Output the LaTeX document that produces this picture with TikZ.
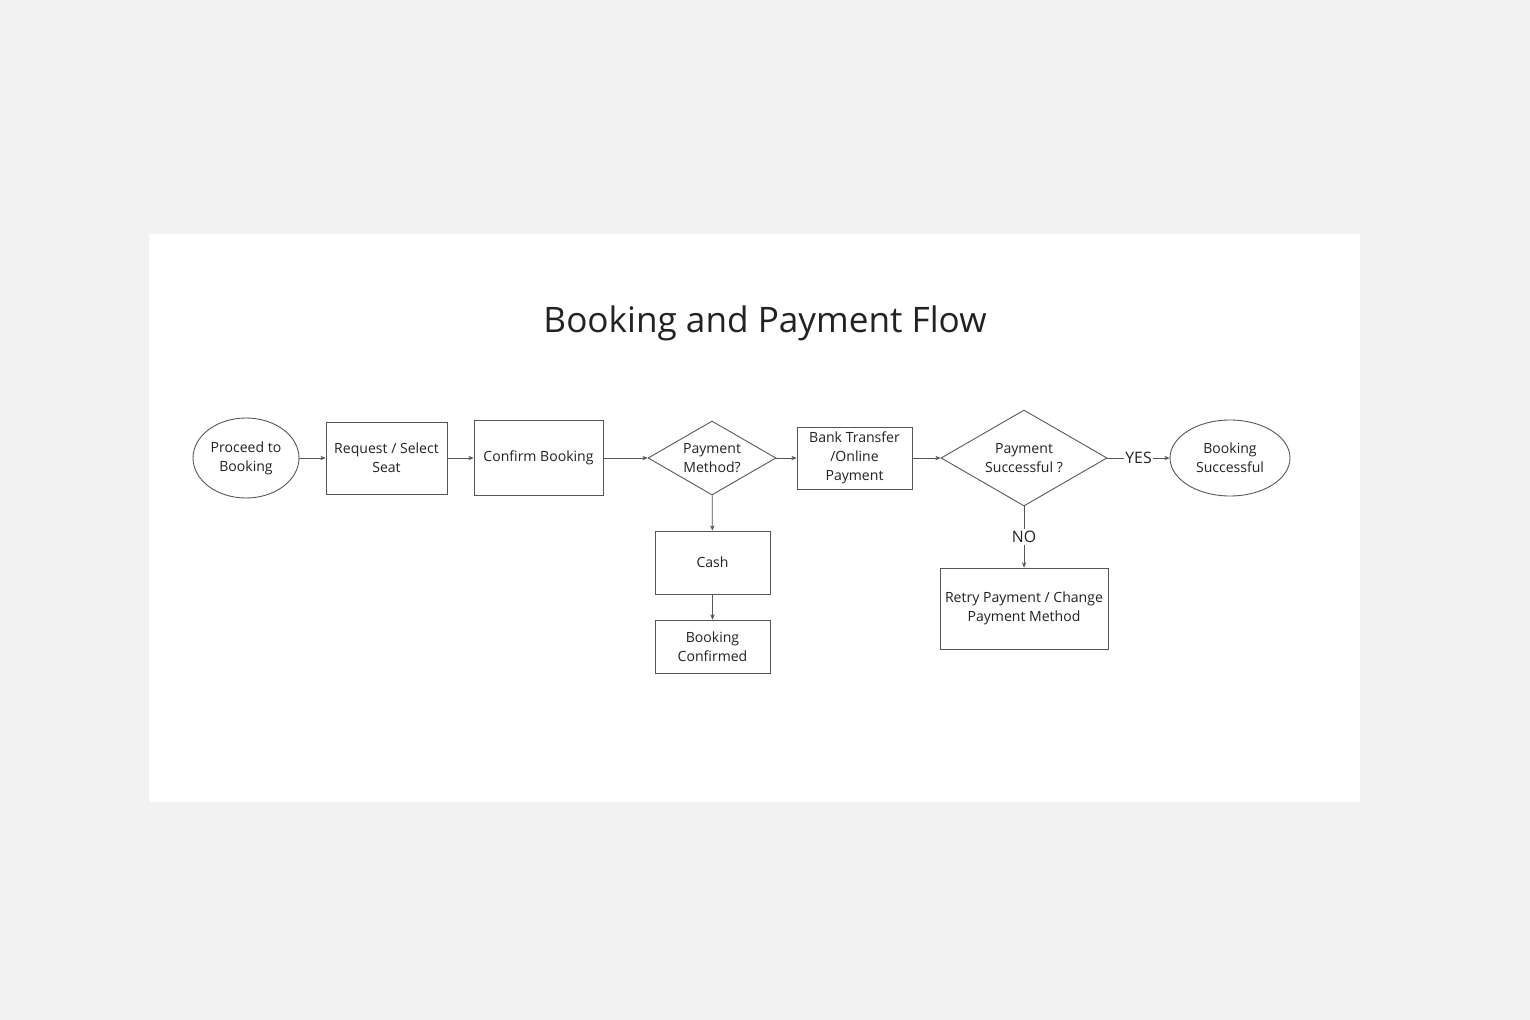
\documentclass[tikz,border=0pt]{standalone}
\usepackage{fontspec}
\setmainfont{Open Sans}
\usetikzlibrary{shapes.geometric,arrows.meta}
\definecolor{PageClr}{HTML}{F2F2F2}
\definecolor{LineClr}{HTML}{555555}
\definecolor{TextClr}{HTML}{222222}

\begin{document}
\begin{tikzpicture}[x=0.02cm,y=-0.02cm,
  every node/.style={font=\fontsize{8}{10.8}\selectfont,text=TextClr,align=center},
  box/.style={draw=LineClr,line width=0.5pt,rectangle,inner sep=0pt},
  oval/.style={draw=LineClr,line width=0.5pt,ellipse,inner sep=0pt},
  choice/.style={draw=LineClr,line width=0.5pt,diamond,shape aspect=1.7,inner sep=0pt},
  flow/.style={draw=LineClr,line width=0.4pt,-{Stealth[length=3pt,width=2.5pt]}}]
\fill[PageClr] (0,0) rectangle (1530,1020);
\fill[white] (149,234) rectangle (1360,802);
\useasboundingbox (0,0) rectangle (1530,1020);

\node (title) at (765,323) {\fontsize{20}{24}\selectfont Booking and Payment Flow};

\node[oval,minimum width=2.12cm,minimum height=1.6cm] (proceed) at (246,458) {Proceed to\\Booking};
\node[box,minimum width=2.42cm,minimum height=1.44cm] (request) at (386.5,458) {Request / Select\\Seat};
\node[box,minimum width=2.58cm,minimum height=1.5cm] (confirm) at (538.5,458) {Confirm Booking};
\node[choice,minimum width=2.56cm,minimum height=1.48cm] (method) at (712,458) {Payment\\Method?};
\node[box,minimum width=2.3cm,minimum height=1.24cm] (bank) at (854.5,458) {Bank Transfer\\/Online\\Payment};
\node[choice,minimum width=3.32cm,minimum height=1.92cm] (success) at (1024,458) {Payment\\Successful ?};
\node[oval,minimum width=2.4cm,minimum height=1.52cm] (done) at (1230,458) {Booking\\Successful};
\node[box,minimum width=2.3cm,minimum height=1.26cm] (cash) at (712.5,562.5) {Cash};
\node[box,minimum width=2.3cm,minimum height=1.06cm] (confirmed) at (712.5,646.5) {Booking\\Confirmed};
\node[box,minimum width=3.36cm,minimum height=1.62cm] (retry) at (1024,608.5) {Retry Payment / Change\\Payment Method};

\draw[flow] (proceed) -- (request);
\draw[flow] (request) -- (confirm);
\draw[flow] (confirm) -- (method);
\draw[flow] (method) -- (bank);
\draw[flow] (bank) -- (success);
\draw[flow] (method) -- (cash);
\draw[flow] (cash) -- (confirmed);
\draw[flow] (success) -- node[fill=white,inner sep=1pt,font=\fontsize{9}{11}\selectfont]{YES} (done);
\draw[flow] (success) -- node[fill=white,inner sep=1pt,font=\fontsize{9}{11}\selectfont]{NO} (retry);
\end{tikzpicture}
\end{document}
